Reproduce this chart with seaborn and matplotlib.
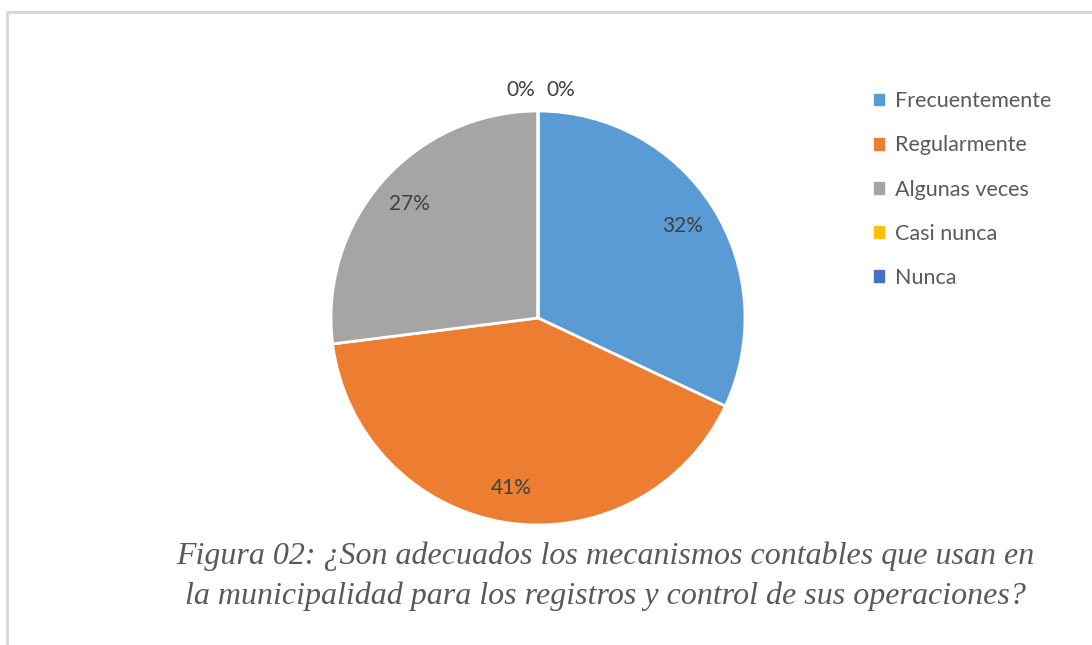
import matplotlib
matplotlib.use("Agg")
import matplotlib.pyplot as plt
from matplotlib.lines import Line2D
import numpy as np
import seaborn as sns

categories = ["Frecuentemente", "Regularmente", "Algunas veces", "Casi nunca", "Nunca"]
percentages = [32, 41, 27, 0, 0]
colors = ["#5B9BD5", "#ED7D31", "#A5A5A5", "#FFC000", "#4472C4"]
caption = ("Figura 02: ¿Son adecuados los mecanismos contables que usan en\n"
           "la municipalidad para los registros y control de sus operaciones?")

sns.set_theme(style="white")
plt.rcParams["font.family"] = ["Lato", "DejaVu Sans"]

W, H = 1092, 645
fig = plt.figure(figsize=(W / 100, H / 100), dpi=100)
fig.patch.set_facecolor("white")

# chart frame (left and top edges visible)
fx = 6.5 / W
fy = 1 - 11.5 / H
fig.add_artist(Line2D([fx, fx, 1.0], [0.0, fy, fy], transform=fig.transFigure,
                      color="#D9D9D9", lw=2.2))

cx, cy, r = 538, 318, 207
ax = fig.add_axes([(cx - r) / W, (H - cy - r) / H, 2 * r / W, 2 * r / H])

wedges, texts, autotexts = ax.pie(
    percentages, colors=colors, startangle=90, counterclock=False,
    autopct=lambda p: f"{p:.0f}%" if p > 0.5 else "", pctdistance=0.83,
    wedgeprops=dict(edgecolor="white", linewidth=2), radius=1.0,
    textprops=dict(color="#404040", fontsize=15),
)
ax.set_xlim(-1, 1)
ax.set_ylim(-1, 1)
ax.set_aspect("equal")
ax.axis("off")

# zero-value slices get their labels just outside the rim, side by side
zero_idx = [i for i, v in enumerate(percentages) if v == 0]
offsets = [-17, 23]
for k, i in enumerate(zero_idx):
    w = wedges[i]
    ang = np.deg2rad(w.theta1)
    x, y = 1.1 * np.cos(ang), 1.1 * np.sin(ang)
    ax.annotate(f"{percentages[i]}%", (x, y), xytext=(offsets[k] * 0.72, 0),
                textcoords="offset points", ha="center", va="center",
                color="#404040", fontsize=15, annotation_clip=False)

handles = [plt.Rectangle((0, 0), 1, 1, color=c) for c in colors]
leg = fig.legend(handles, categories, loc="upper left",
                 bbox_to_anchor=(855 / W, 1 - 72 / H), frameon=False,
                 fontsize=15.5, labelcolor="#595959", handlelength=0.45,
                 handleheight=0.45, handletextpad=0.5, labelspacing=1.12)

fig.text(605 / W, 1 - 576 / H, caption, ha="center", va="center",
         fontsize=23, style="italic", family="Liberation Serif",
         color="#595959", linespacing=1.45)

fig.savefig("out.png", dpi=100, facecolor="white")
